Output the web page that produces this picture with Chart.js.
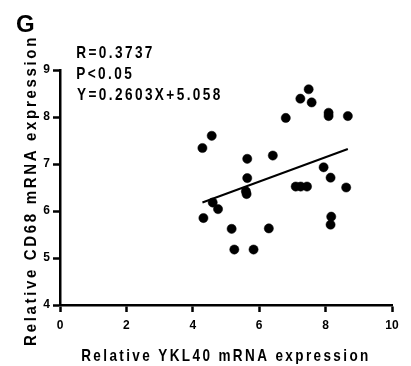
<!DOCTYPE html>
<html><head><meta charset="utf-8">
<script src="https://cdn.jsdelivr.net/npm/chart.js@4.4.1/dist/chart.umd.min.js"></script>
<style>html,body{margin:0;padding:0;background:#fff}#wrap{width:411px;height:366px}</style>
</head><body><div id="wrap"><canvas id="c" width="411" height="366"></canvas></div>
<script>
const ykl40 = [4.29,4.57,4.32,4.60,4.76,5.17,5.25,5.83,5.64,5.64,5.60,5.62,6.29,6.41,6.80,7.24,7.49,7.58,7.10,7.25,7.44,8.09,8.09,8.67,7.94,8.15,8.62,8.17,8.15];
const cd68  = [7.34,7.60,5.85,6.18,6.04,5.62,5.18,5.18,7.11,6.70,6.42,6.36,5.63,7.18,7.98,8.39,8.59,8.31,6.52,6.52,6.52,8.09,8.02,8.02,6.93,6.71,6.50,5.88,5.71];
const fitX = [4.29, 8.67];
const fitY = [6.18, 7.32];
const xTicks = [0,2,4,6,8,10];
const yTicks = [4,5,6,7,8,9];
const statLines = ["R=0.3737","P<0.05","Y=0.2603X+5.058"];
const panelLabel = "G";
const xTitle = "Relative YKL40 mRNA expression";
const yTitle = "Relative CD68 mRNA expression";

const FONT = "'Liberation Sans', Arial, sans-serif";

// draw text stretched/compressed along its direction so its ink spans `len` px
function inkWidth(ctx, t){ const m = ctx.measureText(t); return {w: m.actualBoundingBoxLeft + m.actualBoundingBoxRight, l: m.actualBoundingBoxLeft}; }

const textPlugin = {
  id: 'texts',
  afterDraw(chart){
    const ctx = chart.ctx;
    ctx.save();
    ctx.fillStyle = '#000';
    ctx.textAlign = 'left'; ctx.textBaseline = 'alphabetic';
    ctx.letterSpacing = '0px';
    ctx.font = "bold 24px " + FONT;
    ctx.fillText(panelLabel, 16, 32);

    ctx.font = "bold 17px " + FONT;
    ctx.letterSpacing = '3px';
    // stats block: common horizontal scale from longest line
    const ref = inkWidth(ctx, statLines[2]);
    const sx = (220 - 77) / ref.w;
    const base = [58, 79, 100];
    statLines.forEach((t,i)=>{
      const m = inkWidth(ctx, t);
      ctx.save();
      ctx.translate(77 + m.l*sx, base[i]);
      ctx.scale(sx, 1);
      ctx.fillText(t, 0, 0);
      ctx.restore();
    });
    // x title
    let m = inkWidth(ctx, xTitle);
    let s = (368 - 82) / m.w;
    ctx.save();
    ctx.translate(82 + m.l*s, 361);
    ctx.scale(s, 1);
    ctx.fillText(xTitle, 0, 0);
    ctx.restore();
    // y title
    m = inkWidth(ctx, yTitle);
    s = (345 - 38) / m.w;
    ctx.save();
    ctx.translate(35.5, 345);
    ctx.rotate(-Math.PI/2);
    ctx.scale(s, 1);
    ctx.translate(m.l, 0);
    ctx.fillText(yTitle, 0, 0);
    ctx.restore();
    ctx.restore();
  }
};

new Chart(document.getElementById('c'), {
  type: 'scatter',
  data: {
    datasets: [
      {
        data: ykl40.map((x,i)=>({x, y: cd68[i]})),
        backgroundColor: '#000', borderColor: '#000', borderWidth: 0.5,
        pointRadius: 4.6, pointHoverRadius: 4.6
      },
      {
        type: 'line',
        data: fitX.map((x,i)=>({x, y: fitY[i]})),
        borderColor: '#000', borderWidth: 2, pointRadius: 0, fill: false
      }
    ]
  },
  options: {
    responsive: false, animation: false,
    layout: { padding: { top: 70, right: 19, bottom: 0, left: 0 } },
    plugins: { legend: { display: false }, tooltip: { enabled: false } },
    scales: {
      x: {
        type: 'linear', min: 0, max: 10,
        afterBuildTicks(s){ s.ticks = xTicks.map(v=>({value:v})); },
        afterFit(s){ s.height = 61; },
        grid: { drawOnChartArea: false, tickLength: 7, tickWidth: 2.5, color: '#000' },
        border: { color: '#000', width: 2.5 },
        ticks: { color: '#000', font: { family: FONT, weight: 'bold', size: 12 }, padding: 6, maxRotation: 0 }
      },
      y: {
        type: 'linear', min: 4, max: 9,
        afterBuildTicks(s){ s.ticks = yTicks.map(v=>({value:v})); },
        afterFit(s){ s.width = 60; },
        grid: { drawOnChartArea: false, tickLength: 7, tickWidth: 2.5, color: '#000' },
        border: { color: '#000', width: 2.5 },
        ticks: { color: '#000', font: { family: FONT, weight: 'bold', size: 12 }, padding: 3 }
      }
    }
  },
  plugins: [textPlugin]
});
</script>
</body></html>
